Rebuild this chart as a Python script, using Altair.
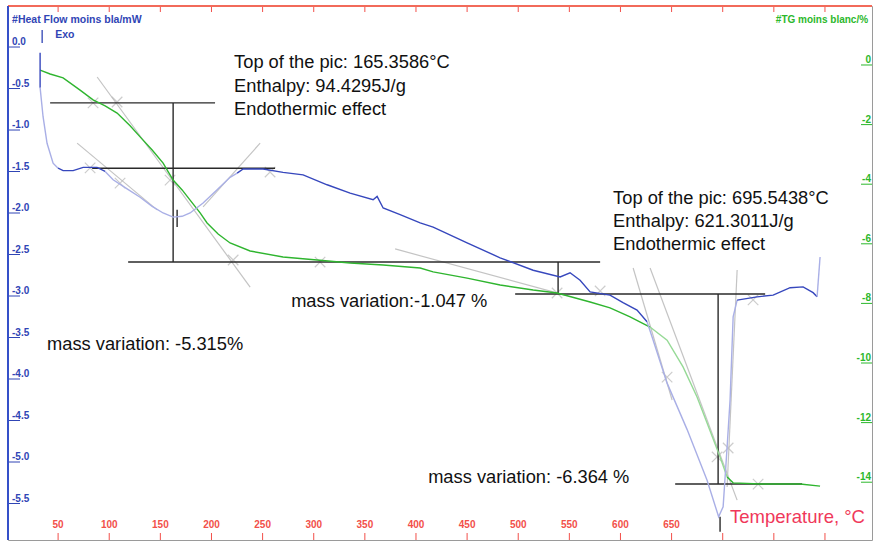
import altair as alt
import pandas as pd

# ---------------- data ----------------
# DSC heat flow (mW) versus temperature (°C)
blue_T = [32.4, 32.4, 35.3, 39.2, 45.1, 50.0, 54.9, 64.7, 74.5, 88.1, 96.0, 103.8, 117.5, 130.2,
          142.0, 152.7, 162.5, 171.3, 179.1, 191.8, 205.5, 218.2, 225.1, 231.0, 250.5, 270.0,
          289.6, 313.1, 335.6, 358.1, 362.0, 367.9, 384.5, 404.1, 416.8, 450.0, 482.3, 514.6,
          541.0, 550.7, 560.5, 570.3, 589.8, 602.5, 616.2, 626.0, 631.9, 645.6, 665.2, 684.7,
          696.0, 700.4, 704.3, 707.2, 710.2, 714.1, 733.6, 749.3, 765.9, 778.6, 788.4, 792.3, 795.2]
blue_HF = [-0.13, -0.55, -0.90, -1.22, -1.46, -1.52, -1.55, -1.55, -1.51, -1.51, -1.56, -1.66, -1.77,
           -1.87, -1.98, -2.06, -2.11, -2.10, -2.06, -1.94, -1.78, -1.63, -1.58, -1.53, -1.53, -1.57,
           -1.60, -1.72, -1.82, -1.90, -1.86, -2.00, -2.08, -2.18, -2.23, -2.42, -2.60, -2.75,
           -2.83, -2.78, -2.87, -3.01, -3.05, -3.14, -3.23, -3.37, -3.59, -4.11, -4.67, -5.28,
           -5.72, -5.60, -4.88, -4.31, -3.31, -3.11, -3.07, -3.05, -2.96, -2.95, -3.02, -3.07, -2.59]

# TG mass change (%) versus temperature (°C)
green_T = [32.4, 42.2, 54.9, 71.5, 84.2, 96.0, 107.7, 120.4, 130.2, 142.0, 152.7, 162.5, 171.3,
           179.1, 188.9, 195.7, 206.5, 218.2, 237.8, 270.0, 303.3, 335.6, 367.9, 404.1, 416.8,
           450.0, 482.3, 514.6, 538.0, 570.3, 589.8, 609.4, 628.9, 645.6, 661.2, 674.9, 684.7,
           697.4, 704.3, 710.2, 736.6, 775.7, 795.2]
green_TG = [-0.34, -0.47, -0.60, -1.01, -1.34, -1.54, -1.78, -2.21, -2.58, -3.02, -3.46, -4.03, -4.36,
            -4.70, -5.13, -5.47, -5.84, -6.14, -6.41, -6.61, -6.71, -6.81, -6.88, -6.98, -7.11,
            -7.32, -7.55, -7.72, -7.82, -8.12, -8.32, -8.62, -8.96, -9.40, -10.30, -11.31, -12.18,
            -13.32, -13.99, -14.19, -14.23, -14.23, -14.30]

# axis ticks
hf_ticks = [0.0, -0.5, -1.0, -1.5, -2.0, -2.5, -3.0, -3.5, -4.0, -4.5, -5.0, -5.5]
hf_tick_labels = ["0.0", "-0.5", "-1.0", "-1.5", "-2.0", "-2.5", "-3.0", "-3.5", "-4.0", "-4.5", "-5.0", "-5.5"]
tg_ticks = [0, -2, -4, -6, -8, -10, -12, -14]
tg_tick_labels = ["0", "-2", "-4", "-6", "-8", "-10", "-12", "-14"]
t_ticks = [50, 100, 150, 200, 250, 300, 350, 400, 450, 500, 550, 600, 650, 700, 750, 800]
t_tick_labels = ["50", "100", "150", "200", "250", "300", "350", "400", "450", "500", "550", "600", "650"]

# black construction lines on the TG scale (start T, end T, start %, end %)
black_T1 = [42.2, 162.5, 118.5, 539.0, 497.0, 695.5, 653.5]
black_T2 = [203.5, 162.5, 580.1, 539.0, 741.5, 695.5, 777.6]
black_TG1 = [-1.44, -1.44, -6.78, -6.78, -7.85, -7.85, -14.23]
black_TG2 = [-1.44, -6.78, -6.78, -7.82, -7.85, -14.23, -14.23]
# black construction lines on the heat-flow scale
blackhf_T1 = [83.3, 166.4, 697.4]
blackhf_T2 = [262.2, 166.4, 697.4]
blackhf_HF1 = [-1.52, -2.02, -5.72]
blackhf_HF2 = [-1.52, -2.23, -5.90]

# grey tangent lines (TG scale)
gray_T1 = [88.2, 68.6, 247.6, 379.6, 612.4, 629.0, 714.1]
gray_T2 = [237.8, 146.8, 191.8, 545.8, 650.5, 714.1, 704.3]
gray_TG1 = [-0.57, -2.79, -2.79, -6.34, -6.98, -6.98, -7.05]
gray_TG2 = [-7.62, -5.03, -4.93, -7.89, -11.41, -14.77, -14.33]

# grey cross markers (TG scale)
mark_T = [84.2, 107.7, 81.3, 110.6, 159.5, 221.2, 257.3, 306.2, 538.0, 580.1, 729.7, 645.6, 705.3, 694.5, 734.6]
mark_TG = [-1.44, -1.41, -3.62, -4.13, -4.03, -6.71, -3.76, -6.78, -7.82, -7.75, -8.05, -10.64, -13.02, -13.32, -14.23]

# annotations (TG scale)
ann_text = ["Top of the pic: 165.3586°C", "Enthalpy: 94.4295J/g", "Endothermic effect",
            "Top of the pic: 695.5438°C", "Enthalpy: 621.3011J/g", "Endothermic effect",
            "mass variation:-1.047 %", "mass variation: -5.315%", "mass variation: -6.364 %"]
ann_T = [222.1, 222.1, 222.1, 592.8, 592.8, 592.8, 277.9, 39.2, 411.9]
ann_TG = [-0.10, -0.91, -1.68, -4.66, -5.44, -6.21, -8.12, -9.56, -14.03]

left_head_text = ["#Heat Flow moins bla/mW", "Exo"]
left_head_T = [5.0, 47.1]
left_head_TG = [1.34, 0.84]
right_head_text = ["#TG moins blanc/%"]
right_head_T = [842.2]
right_head_TG = [1.34]
xtitle_text = ["Temperature, °C"]
xtitle_T = [707.2]
xtitle_TG = [-15.34]
exo_T = [34.4]
exo_TG1 = [1.01]
exo_TG2 = [0.57]

# ---------------- styling ----------------
BLUE_DARK = "#3647bd"
BLUE_LIGHT = "#a9afe6"
GREEN_DARK = "#2fb52f"
GREEN_LIGHT = "#96da96"
AX_BLUE = "#3045b5"
AX_GREEN = "#2cb82c"
AX_RED = "#f2504a"
FONT = "Liberation Sans"
blue_light_ranges = [(33.0, 50.0), (96.0, 225.0), (626.0, 714.0), (792.0, 796.0)]
green_light_ranges = [(629.0, 706.0)]

W, H = 864, 534
x_scale = alt.Scale(domain=[1, 846], nice=False, zero=False)
hf_scale = alt.Scale(domain=[-6.0, 0.434], nice=False, zero=False)
tg_scale = alt.Scale(domain=[-16.107, 1.812], nice=False, zero=False)


def segments(Ts, Vs, light_ranges):
    n = len(Ts)
    shades = []
    for i in range(n - 1):
        mid = (Ts[i] + Ts[i + 1]) / 2
        shades.append("light" if any(a <= mid <= b for a, b in light_ranges) else "dark")
    rows = []
    g = 0
    start = 0
    for i in range(1, n):
        if i == n - 1 or shades[i] != shades[start]:
            for j in range(start, i + 1):
                rows.append(dict(T=Ts[j], v=Vs[j], seg=g, shade=shades[start], order=len(rows)))
            g += 1
            start = i
    return pd.DataFrame(rows)


X = alt.X("T:Q", scale=x_scale, axis=None)
Yhf = lambda f="v": alt.Y(f"{f}:Q", scale=hf_scale, axis=None)
Ytg = lambda f="v": alt.Y(f"{f}:Q", scale=tg_scale, axis=None)

blue_df = segments(blue_T, blue_HF, blue_light_ranges)
green_df = segments(green_T, green_TG, green_light_ranges)

gray_df = pd.DataFrame(dict(T=gray_T1, T2=gray_T2, v=gray_TG1, v2=gray_TG2))
gray_layer = alt.Chart(gray_df).mark_rule(color="#c4c4c4", strokeWidth=1.2).encode(
    x=X, x2="T2:Q", y=Ytg(), y2="v2:Q")

mark_df = pd.DataFrame(dict(T=mark_T, v=mark_TG))
mark_layer = alt.Chart(mark_df).mark_point(
    shape="M-1,-1L1,1M-1,1L1,-1", filled=False, color="#b8b8b8", size=110, strokeWidth=1.2
).encode(x=X, y=Ytg())

blue_layer = alt.Chart(blue_df).mark_line(strokeWidth=1.4).encode(
    x=X, y=Yhf(), detail="seg:N", order="order:Q",
    color=alt.Color("shade:N", scale=alt.Scale(domain=["dark", "light"], range=[BLUE_DARK, BLUE_LIGHT]), legend=None))

green_layer = alt.Chart(green_df).mark_line(strokeWidth=1.4).encode(
    x=X, y=Ytg(), detail="seg:N", order="order:Q",
    color=alt.Color("shade:N", scale=alt.Scale(domain=["dark", "light"], range=[GREEN_DARK, GREEN_LIGHT]), legend=None))

black_df = pd.DataFrame(dict(T=black_T1, T2=black_T2, v=black_TG1, v2=black_TG2))
black_layer = alt.Chart(black_df).mark_rule(color="#2a2a2a", strokeWidth=1.4).encode(
    x=X, x2="T2:Q", y=Ytg(), y2="v2:Q")
blackhf_df = pd.DataFrame(dict(T=blackhf_T1, T2=blackhf_T2, v=blackhf_HF1, v2=blackhf_HF2))
blackhf_layer = alt.Chart(blackhf_df).mark_rule(color="#2a2a2a", strokeWidth=1.4).encode(
    x=X, x2="T2:Q", y=Yhf(), y2="v2:Q")

ann_df = pd.DataFrame(dict(T=ann_T, v=ann_TG, t=ann_text))
ann_layer = alt.Chart(ann_df).mark_text(
    align="left", baseline="middle", font=FONT, fontSize=18.3, color="#111111"
).encode(x=X, y=Ytg(), text="t:N")

lh_df = pd.DataFrame(dict(T=left_head_T, v=left_head_TG, t=left_head_text))
lh_layer = alt.Chart(lh_df).mark_text(
    align="left", baseline="middle", font=FONT, fontSize=10.5, fontWeight="bold", color=AX_BLUE
).encode(x=X, y=Ytg(), text="t:N")
rh_df = pd.DataFrame(dict(T=right_head_T, v=right_head_TG, t=right_head_text))
rh_layer = alt.Chart(rh_df).mark_text(
    align="right", baseline="middle", font=FONT, fontSize=10, fontWeight="bold", color=AX_GREEN
).encode(x=X, y=Ytg(), text="t:N")
xt_df = pd.DataFrame(dict(T=xtitle_T, v=xtitle_TG, t=xtitle_text))
xt_layer = alt.Chart(xt_df).mark_text(
    align="left", baseline="middle", font=FONT, fontSize=18.5, color="#f0385a"
).encode(x=X, y=Ytg(), text="t:N")
exo_df = pd.DataFrame(dict(T=exo_T, v=exo_TG1, v2=exo_TG2))
exo_layer = alt.Chart(exo_df).mark_rule(color=AX_BLUE, strokeWidth=1.3).encode(
    x=X, y=Ytg(), y2="v2:Q")

# axes drawn inside the frame
hf_df = pd.DataFrame(dict(v=hf_ticks, t=hf_tick_labels))
hf_tick_layer = alt.Chart(hf_df).mark_rule(color=AX_BLUE, strokeWidth=1, yOffset=5).encode(
    x=alt.value(0), x2=alt.value(12), y=Yhf())
hf_lab_layer = alt.Chart(hf_df).mark_text(
    align="left", baseline="middle", font=FONT, fontSize=10, fontWeight="bold", color=AX_BLUE
).encode(x=alt.value(4), y=Yhf(), text="t:N")

tg_df = pd.DataFrame(dict(v=tg_ticks, t=tg_tick_labels))
tg_tick_layer = alt.Chart(tg_df).mark_rule(color=AX_GREEN, strokeWidth=1, yOffset=5).encode(
    x=alt.value(W - 11), x2=alt.value(W), y=Ytg())
tg_lab_layer = alt.Chart(tg_df).mark_text(
    align="right", baseline="middle", font=FONT, fontSize=10, fontWeight="bold", color=AX_GREEN
).encode(x=alt.value(W - 1), y=Ytg(), text="t:N")

xt_ticks_df = pd.DataFrame(dict(T=t_ticks))
x_bottom_ticks = alt.Chart(xt_ticks_df).mark_rule(color=AX_RED, strokeWidth=1).encode(
    x=X, y=alt.value(H - 7), y2=alt.value(H))
x_top_ticks = alt.Chart(xt_ticks_df).mark_rule(color=AX_RED, strokeWidth=1).encode(
    x=X, y=alt.value(0), y2=alt.value(6))
xlab_df = pd.DataFrame(dict(T=t_ticks[:len(t_tick_labels)], t=t_tick_labels))
x_labels = alt.Chart(xlab_df).mark_text(
    align="center", baseline="middle", font=FONT, fontSize=10, fontWeight="bold", color=AX_RED
).encode(x=X, y=alt.value(H - 15), text="t:N")

top_border = alt.Chart(xt_ticks_df).mark_rule(color="#f26a5a", strokeWidth=2).encode(
    x=alt.value(0), x2=alt.value(W), y=alt.value(0))
left_border = alt.Chart(xt_ticks_df).mark_rule(color="#3550c8", strokeWidth=2).encode(
    x=alt.value(0), y=alt.value(0), y2=alt.value(H))

chart = alt.layer(
    gray_layer, mark_layer, blackhf_layer, black_layer, green_layer, blue_layer,
    ann_layer, lh_layer, rh_layer, xt_layer, exo_layer,
    hf_tick_layer, hf_lab_layer, tg_tick_layer, tg_lab_layer,
    x_bottom_ticks, x_top_ticks, x_labels, top_border, left_border,
).resolve_scale(y="independent", color="independent").properties(
    width=W, height=H,
    autosize=alt.AutoSizeParams(type="none"),
    padding={"left": 8, "top": 6, "right": 2, "bottom": 1},
    background="white",
).configure_view(stroke="#9a9a9a", strokeWidth=1)

chart.save("out.html", embed_options={"renderer": "svg", "actions": False})
